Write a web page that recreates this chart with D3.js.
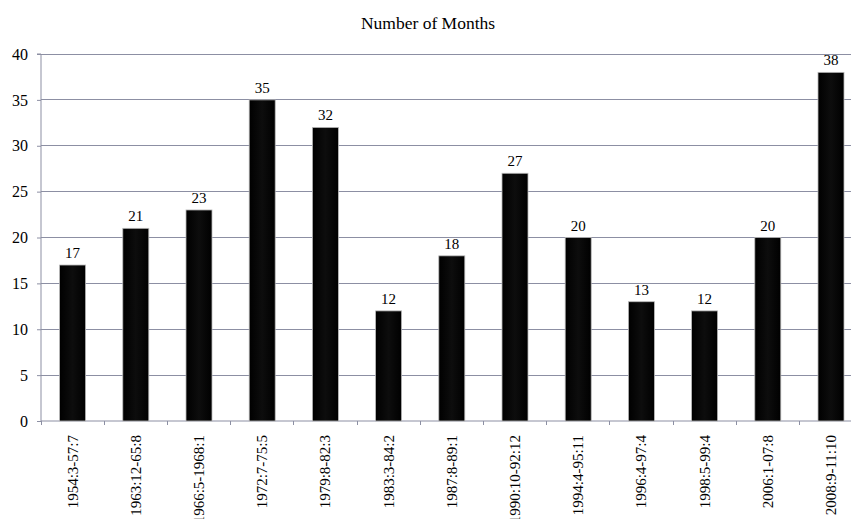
<!DOCTYPE html>
<html><head><meta charset="utf-8">
<script src="https://cdn.jsdelivr.net/npm/d3@7"></script>
<style>body{margin:0;background:#fff;overflow:hidden}svg{display:block}</style>
</head><body>
<script>
const categories = ["1954:3-57:7","1963:12-65:8","1966:5-1968:1","1972:7-75:5","1979:8-82:3","1983:3-84:2","1987:8-89:1","1990:10-92:12","1994:4-95:11","1996:4-97:4","1998:5-99:4","2006:1-07:8","2008:9-11:10"];
const values = [17,21,23,35,32,12,18,27,20,13,12,20,38];
const yTicks = [0,5,10,15,20,25,30,35,40];
const title = "Number of Months";

(function(){
const W = 851, H = 519;
const mLeft = 41, mTop = 54, mBottom = 421, mRight = 41 + 13 * 63.2;
const svg = d3.select("body").append("svg").attr("width", W).attr("height", H);
const font = "'Liberation Serif','Times New Roman',serif";
const gridColor = "#8c8fa3";

const defs = svg.append("defs");
const grad = defs.append("linearGradient").attr("id","bg").attr("x1","0").attr("x2","1").attr("y1","0").attr("y2","0");
grad.append("stop").attr("offset","0%").attr("stop-color","#000");
grad.append("stop").attr("offset","50%").attr("stop-color","#0d0d0d");
grad.append("stop").attr("offset","100%").attr("stop-color","#000");

const x = d3.scaleBand().domain(categories).range([mLeft, mRight]).padding(0);
const y = d3.scaleLinear().domain([0, 40]).range([mBottom, mTop]);

// gridlines
svg.append("g").selectAll("line").data(yTicks.filter(d => d > 0)).join("line")
  .attr("x1", mLeft).attr("x2", W).attr("y1", d => y(d)).attr("y2", d => y(d))
  .attr("stroke", gridColor).attr("stroke-width", 1).attr("shape-rendering","crispEdges");

// y axis
const yAxis = d3.axisLeft(y).tickValues(yTicks).tickSize(4).tickPadding(9);
const gy = svg.append("g").attr("transform", `translate(${mLeft},0)`).call(yAxis);
gy.select(".domain").attr("stroke", gridColor).attr("d", `M-4,${y(40)}H0V${y(0)}`);
gy.selectAll(".tick line").attr("stroke", gridColor);
gy.selectAll("text").attr("font-family", font).attr("font-size", 16).attr("fill", "#000");

// x axis
const xAxis = d3.axisBottom(x).tickSize(0).tickFormat("");
const gx = svg.append("g").attr("transform", `translate(0,${mBottom})`).call(xAxis);
gx.select(".domain").attr("stroke", gridColor).attr("d", `M${mLeft},0H${W}`);
gx.selectAll(".tick").remove();
const edges = categories.map(c => x(c)).concat([mRight]);
gx.selectAll("line.edge").data(edges).join("line").attr("class","edge")
  .attr("x1", d => d).attr("x2", d => d).attr("y1", 0).attr("y2", 4)
  .attr("stroke", gridColor).attr("shape-rendering","crispEdges");

// bars
const bw = 26;
const data = categories.map((c, i) => ({c, v: values[i]}));
svg.append("g").selectAll("rect").data(data).join("rect")
  .attr("x", d => x(d.c) + x.bandwidth()/2 - bw/2)
  .attr("width", bw)
  .attr("y", d => y(d.v))
  .attr("height", d => y(0) - y(d.v))
  .attr("fill", "url(#bg)")
  .attr("stroke", "#b8b8b8").attr("stroke-width", 0.8);

// value labels
svg.append("g").selectAll("text").data(data).join("text")
  .attr("x", d => x(d.c) + x.bandwidth()/2)
  .attr("y", d => y(d.v) - 7)
  .attr("text-anchor", "middle")
  .attr("font-family", font).attr("font-size", 15).attr("fill", "#000")
  .text(d => d.v);

// category labels
svg.append("g").selectAll("text").data(categories).join("text")
  .attr("transform", d => `translate(${x(d) + x.bandwidth()/2 + 5},${mBottom + 14}) rotate(-90)`)
  .attr("text-anchor", "end")
  .attr("font-family", font).attr("font-size", 15).attr("fill", "#000")
  .text(d => d);

// title
svg.append("text").attr("x", 428).attr("y", 29).attr("text-anchor", "middle")
  .attr("font-family", font).attr("font-size", 17.5).attr("fill", "#000").text(title);
})();
</script>
</body></html>
